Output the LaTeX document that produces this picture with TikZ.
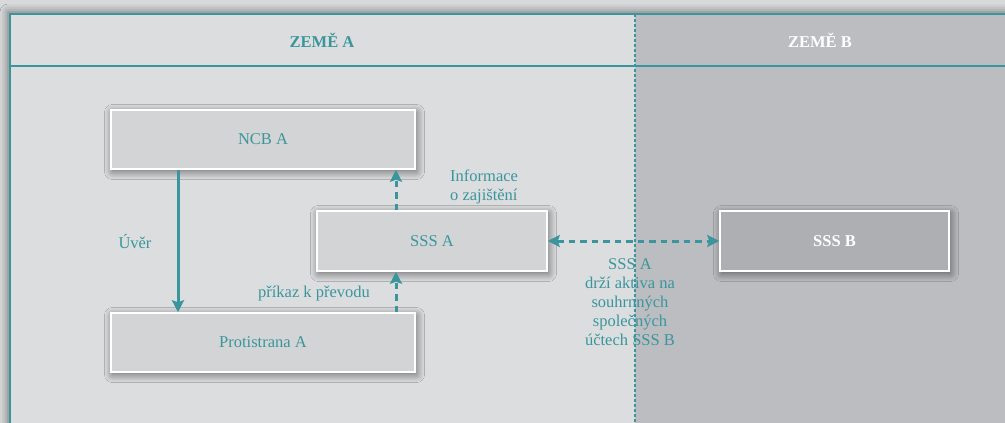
\documentclass[tikz,border=0pt]{standalone}
\usepackage{fontspec}
\setmainfont{Liberation Serif}
\usetikzlibrary{arrows.meta,positioning,shadows.blur}
\definecolor{tealline}{RGB}{58,150,156}
\definecolor{paneA}{RGB}{220,221,223}
\definecolor{paneB}{RGB}{188,189,193}
\definecolor{boxA}{RGB}{211,212,214}
\definecolor{boxB}{RGB}{174,175,179}
\definecolor{pagebg}{RGB}{216,217,219}
\tikzset{
    % boxes for the institutions
    entitybox/.style={
        rectangle, draw=white, line width=1.5pt, fill=boxA,
        text=tealline, font=\fontsize{16.5}{19}\selectfont,
        blur shadow={shadow xshift=1.5pt, shadow yshift=-2.5pt,
            shadow blur radius=8pt, shadow blur steps=14, shadow opacity=55}
    },
    foreignbox/.style={
        entitybox, fill=boxB, text=white, font=\fontsize{16.5}{19}\selectfont\bfseries
    },
    headlabel/.style={
        font=\fontsize{16.5}{19}\selectfont\bfseries, text=tealline
    },
    flowlabel/.style={
        text=tealline, font=\fontsize{16.5}{19}\selectfont, inner sep=0pt
    },
    flowarrow/.style={
        draw=tealline, line width=3pt, -{Stealth[length=12pt,width=12pt,inset=2pt]}
    },
    infoarrow/.style={
        flowarrow, dash pattern=on 6.5pt off 5pt
    }
}
\begin{document}
\begin{tikzpicture}[x=1pt, y=-1pt]
\useasboundingbox (0,0) rectangle (1005,423);
\fill[pagebg] (0,0) rectangle (1005,423);

% panels of the two countries
\fill[paneA, blur shadow={shadow xshift=-2pt, shadow yshift=2pt, shadow blur radius=8pt, shadow opacity=50}]
    (10,14) rectangle (1030,450);
\fill[paneB] (635,14) rectangle (1030,450);
\draw[tealline, line width=1.5pt] (10,450) -- (10,14) -- (1030,14);
\draw[tealline, line width=2pt] (10,66) -- (1030,66);
\draw[tealline, line width=1.3pt, dash pattern=on 3pt off 2pt] (635,14) -- (635,423);

\node[headlabel] (zemeA) at (322,40) {ZEMĚ A};
\node[headlabel, text=white] (zemeB) at (820,40) {ZEMĚ B};

% institutions
\node[entitybox, minimum width=304pt, minimum height=59pt] (ncbA) at (263,139.5) {NCB A};
\node[entitybox, minimum width=230pt, minimum height=60pt] (sssA) at (432,241) {SSS A};
\node[entitybox, minimum width=304pt, minimum height=59pt] (protiA) at (263,342.5) {Protistrana A};
\node[foreignbox, minimum width=229pt, minimum height=60pt] (sssB) at (834.5,241) {SSS B};

% flows
\draw[flowarrow] ([xshift=-85pt]ncbA.south) -- ([xshift=-85pt]protiA.north);
\draw[infoarrow] ([xshift=-36pt]sssA.north) -- ([xshift=-36pt]sssA.north |- ncbA.south);
\draw[infoarrow] ([xshift=-36pt]sssA.south |- protiA.north) -- ([xshift=-36pt]sssA.south);
\draw[infoarrow, {Stealth[length=12pt,width=12pt,inset=2pt]}-{Stealth[length=12pt,width=12pt,inset=2pt]}] (sssA.east) -- (sssB.west);

% labels
\node[flowlabel] (uver) at (135,241) {Úvěr};
\node[flowlabel, anchor=west, align=left] (info) at (450,187) {Informace\\o zajištění};
\node[flowlabel] (prikaz) at (314,294) {příkaz k převodu};
\node[flowlabel, align=center] (drzi) at (630,302) {SSS A\\drží aktiva na\\souhrnných\\společných\\účtech SSS B};
\end{tikzpicture}
\end{document}
